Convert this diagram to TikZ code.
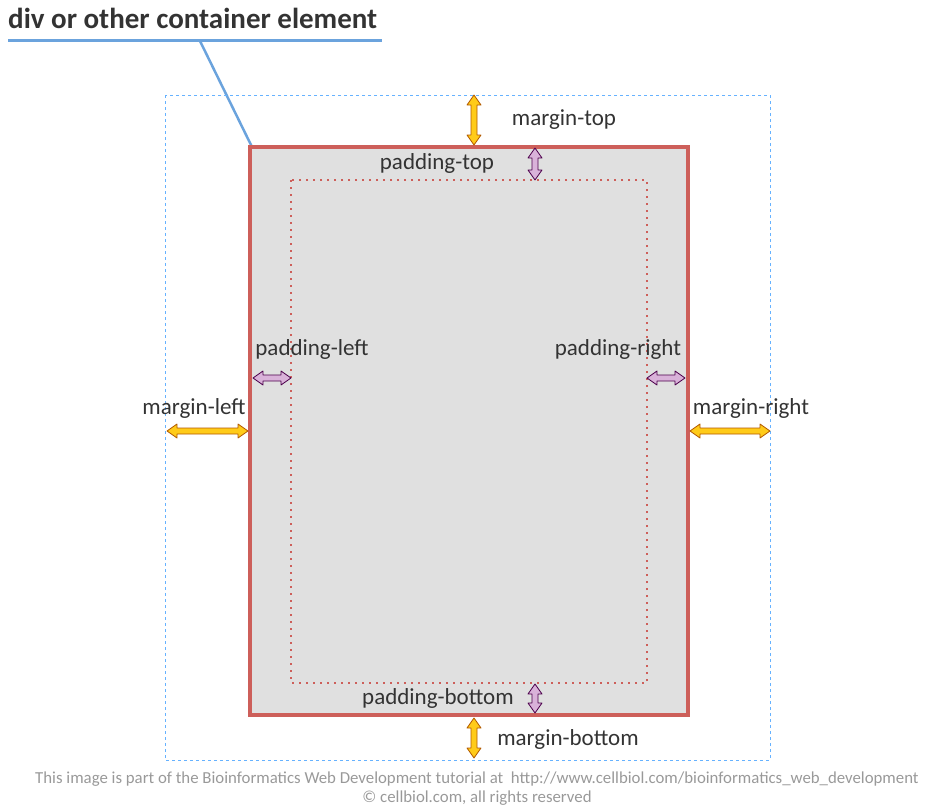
\documentclass[tikz,border=0pt]{standalone}
\usepackage{fontspec}
\setmainfont{Carlito}
\definecolor{brd}{HTML}{CD5F5A}
\begin{document}
\begin{tikzpicture}[x=1pt,y=-1pt,
  lbl/.style={font=\fontsize{23}{26}\selectfont, text=black!80, inner sep=0pt},
  oarr/.style={fill=orange!45!yellow!90, draw=orange!70!black, line width=0.8pt, line join=round},
  parr/.style={fill=violet!30, draw=violet!60!black, line width=0.8pt, line join=round}]
\useasboundingbox (0,0) rectangle (935,811);
\newcommand\myvarrow[4]{\path[#4] (#1,#2) -- (#1+7,#2+10) -- (#1+3,#2+10) -- (#1+3,#3-10) -- (#1+7,#3-10) -- (#1,#3) -- (#1-7,#3-10) -- (#1-3,#3-10) -- (#1-3,#2+10) -- (#1-7,#2+10) -- cycle;}
\newcommand\myharrow[4]{\path[#4] (#2,#1) -- (#2+10,#1-7) -- (#2+10,#1-3) -- (#3-10,#1-3) -- (#3-10,#1-7) -- (#3,#1) -- (#3-10,#1+7) -- (#3-10,#1+3) -- (#2+10,#1+3) -- (#2+10,#1+7) -- cycle;}
% title
\node[anchor=west, font=\bfseries\fontsize{29}{32}\selectfont, text=black!80, inner sep=0pt] (title) at (8,18) {div or other container element};
\draw[cyan!60!blue!60, line width=3pt] (8,40) coordinate (u1) -- (382,40) coordinate (u2);
\draw[cyan!60!blue!60, line width=2.5pt] (200,41) coordinate (p1) -- (252,147) coordinate (p2);
% margin box
\draw[blue!50!cyan!60, dashed, line width=0.8pt] (165,95) rectangle (770,760);
% border box
\draw[fill=black!12, draw=brd, line width=4.5pt] (250,147) rectangle (688,715);
\draw[color=brd, dash pattern=on 2pt off 5pt, line width=2pt] (291,180) rectangle (647,683);
% arrows
\myvarrow{474}{95}{145}{oarr}
\myvarrow{474}{718}{758}{oarr}
\myharrow{431}{167}{248}{oarr}
\myharrow{431}{690}{770}{oarr}
\myvarrow{535}{148}{180}{parr}
\myvarrow{535}{684}{713}{parr}
\myharrow{378}{253}{291}{parr}
\myharrow{378}{647}{685}{parr}
% labels
\node[lbl] (mt) at (564,120) {margin-top};
\node[lbl] (pt) at (437,163) {padding-top};
\node[lbl] (pl) at (312,349) {padding-left};
\node[lbl] (pr) at (618,349) {padding-right};
\node[lbl] (ml) at (194,408) {margin-left};
\node[lbl] (mr) at (751,408) {margin-right};
\node[lbl] (pb) at (438,698) {padding-bottom};
\node[lbl] (mb) at (568,739) {margin-bottom};
\node[font=\fontsize{16.8}{19}\selectfont, text=black!40, inner sep=0pt] (f1) at (477,779) {This image is part of the Bioinformatics Web Development tutorial at\ \ http://www.cellbiol.com/bioinformatics\_web\_development};
\node[font=\fontsize{16.8}{19}\selectfont, text=black!40, inner sep=0pt] (f2) at (477,798) {© cellbiol.com, all rights reserved};
\end{tikzpicture}
\end{document}
